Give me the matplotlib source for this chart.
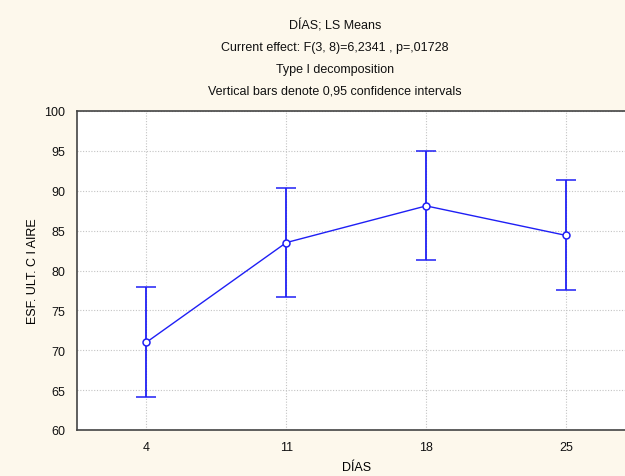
import numpy as np
from matplotlib import pyplot as plt

# LS means por día con intervalos de confianza al 95%
dias = ['4', '11', '18', '25']
medias = [71.0, 83.5, 88.1, 84.4]
ic_inf = [64.1, 76.7, 81.3, 77.5]
ic_sup = [77.9, 90.4, 95.0, 91.3]

titulo = ['DÍAS; LS Means',
          'Current effect: F(3, 8)=6,2341 , p=,01728',
          'Type I decomposition',
          'Vertical bars denote 0,95 confidence intervals']

plt.rcParams['font.family'] = ['Liberation Sans', 'DejaVu Sans']
fondo = '#fdf8ec'
azul = '#1f1ff5'

fig = plt.figure(figsize=(6.25, 4.77), dpi=100, facecolor=fondo)
ax = fig.add_axes([76.5 / 625, 46 / 477, (636 - 76.5) / 625, 319 / 477])
ax.set_facecolor('white')

x = np.arange(len(dias))
medias = np.array(medias)
yerr = [medias - np.array(ic_inf), np.array(ic_sup) - medias]
ax.errorbar(x, medias, yerr=yerr, color=azul, lw=1, elinewidth=1.3,
            capsize=7, capthick=1.3, marker='o', markersize=5,
            markerfacecolor='white', markeredgecolor=azul, markeredgewidth=1.1,
            zorder=3)

ax.set_xlim(-0.5, 3.5)
ax.set_ylim(60, 100)
ax.set_xticks(x, dias)
ax.set_yticks(np.arange(60, 101, 5))
ax.tick_params(length=0, labelsize=9, pad=8, colors='#111111')
ax.grid(True, color='#c4c4c4', linestyle=(0, (1, 1.5)), linewidth=0.8)
for s in ax.spines.values():
    s.set_color('#444444')
    s.set_linewidth(1.2)

ax.set_ylabel('ESF. ULT. C I AIRE', fontsize=9, labelpad=4)
ax.set_xlabel('DÍAS', fontsize=9, labelpad=6)

for i, linea in enumerate(titulo):
    fig.text(335 / 625, 1 - (26 + 22 * i) / 477, linea, ha='center',
             va='center', fontsize=9, color='#111111')

fig.savefig('out.png', dpi=100, facecolor=fondo)
